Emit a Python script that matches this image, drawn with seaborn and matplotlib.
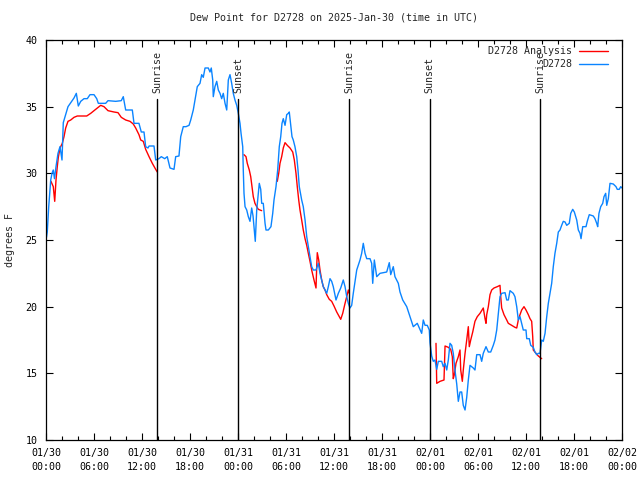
import numpy as np
import pandas as pd
import matplotlib
matplotlib.use("Agg")
import matplotlib.pyplot as plt
import matplotlib.dates as mdates
import seaborn as sns

# hours after 2025-01-30 00:00 UTC, dew point in degrees F
obs_hours = [0.06, 0.16, 0.34, 0.59, 0.75, 0.91, 1.06, 1.25, 1.5, 1.75, 2.0, 2.16, 2.5, 2.75,
             3.09, 3.5, 3.79, 4.04, 4.34, 4.75, 5.16, 5.5, 6.0, 6.34, 6.54, 7.46, 7.75, 8.71,
             9.41, 9.66, 9.96, 10.79, 11.0, 11.62, 11.91, 12.25, 12.46, 12.75, 12.88, 13.5,
             13.71, 14.12, 14.41, 14.84, 15.16, 15.5, 16.0, 16.21, 16.62, 16.84, 17.16, 17.5,
             17.88, 18.09, 18.41, 18.62, 18.91, 19.25, 19.46, 19.66, 19.88, 20.29, 20.5, 20.66,
             20.84, 20.91, 21.12, 21.34, 21.54, 21.75, 21.96, 22.16, 22.38, 22.59, 22.79, 23.0,
             23.21, 23.41, 23.62, 23.84, 24.04, 24.25, 24.38, 24.59, 24.66, 24.75, 24.88, 25.09,
             25.29, 25.5, 25.71, 25.88, 26.04, 26.16, 26.34, 26.54, 26.66, 26.84, 26.96, 27.16,
             27.38, 27.5, 27.79, 28.12, 28.34, 28.5, 28.75, 28.96, 29.16, 29.34, 29.5, 29.66,
             29.88, 30.09, 30.29, 30.41, 30.59, 30.75, 30.91, 31.12, 31.34, 31.5, 31.66, 31.96,
             32.16, 32.38, 32.59, 32.79, 33.0, 33.21, 33.41, 33.75, 34.04, 34.25, 34.46, 34.66,
             34.88, 35.09, 35.29, 35.5, 35.71, 35.91, 36.25, 36.54, 36.84, 37.16, 37.38, 37.59,
             37.79, 38.0, 38.21, 38.41, 38.84, 39.25, 39.46, 39.66, 39.88, 40.09, 40.5, 40.71,
             40.84, 41.04, 41.34, 41.75, 42.59, 42.91, 43.09, 43.41, 43.62, 44.04, 44.25, 44.59,
             45.09, 45.5, 45.91, 46.41, 46.66, 46.96, 47.16, 47.38, 47.66, 47.91, 48.0, 48.21,
             48.41, 48.62, 48.84, 49.04, 49.46, 49.66, 49.88, 50.09, 50.29, 50.5, 50.71, 50.91,
             51.12, 51.34, 51.54, 51.75, 51.96, 52.16, 52.38, 52.59, 52.79, 53.0, 53.41, 53.62,
             53.84, 54.25, 54.46, 54.66, 55.0, 55.29, 55.59, 55.91, 56.12, 56.34, 56.54, 56.75,
             56.96, 57.38, 57.59, 57.79, 58.0, 58.41, 58.62, 58.84, 59.04, 59.25, 59.46, 59.66,
             60.0, 60.09, 60.41, 60.59, 60.91, 61.12, 61.34, 61.54, 61.75, 61.96, 62.16, 62.38,
             62.59, 62.79, 63.0, 63.21, 63.41, 63.62, 63.84, 64.04, 64.25, 64.46, 64.66, 64.88,
             65.09, 65.41, 65.59, 65.84, 66.04, 66.34, 66.54, 66.75, 66.88, 67.09, 67.5, 67.66,
             67.91, 68.41, 68.62, 68.84, 68.96, 69.12, 69.34, 69.59, 69.75, 69.96, 70.09, 70.29,
             70.5, 70.91, 71.25, 71.41, 71.66, 71.84, 72.0]
obs_dewpt = [25.2, 25.6, 27.5, 29.5, 30.0, 30.25, 29.6, 30.5, 31.5, 32.0, 31.0, 33.8, 34.5, 35.0,
             35.3, 35.65, 36.0, 35.05, 35.4, 35.6, 35.6, 35.9, 35.9, 35.6, 35.25, 35.25, 35.45, 35.4,
             35.45, 35.75, 34.75, 34.75, 33.75, 33.75, 33.1, 33.1, 32.0, 31.9, 32.05, 32.05,
             31.0, 31.1, 31.25, 31.1, 31.25, 30.4, 30.3, 31.25, 31.3, 32.75, 33.5, 33.5,
             33.6, 34.0, 34.75, 35.5, 36.5, 36.75, 37.4, 37.2, 37.9, 37.9, 37.6, 37.9,
             37.0, 35.75, 36.5, 36.9, 36.25, 36.0, 35.6, 36.0, 35.25, 34.75, 37.0, 37.4,
             36.75, 36.0, 35.5, 35.1, 34.5, 33.75, 33.0, 32.0, 30.25, 28.5, 27.5, 27.25,
             26.75, 26.4, 27.4, 26.8, 25.75, 24.9, 27.25, 28.5, 29.25, 28.8, 27.75, 27.75,
             26.25, 25.75, 25.75, 26.0, 27.0, 28.0, 29.0, 30.25, 32.0, 32.75, 33.75, 34.1,
             33.6, 34.4, 34.5, 34.6, 33.6, 32.75, 32.5, 32.0, 31.25, 30.25, 29.0, 28.0,
             27.5, 26.5, 25.25, 24.5, 23.75, 23.0, 22.75, 22.75, 23.25, 22.5, 22.0, 21.5,
             21.25, 21.0, 21.5, 22.1, 21.9, 21.5, 20.5, 21.0, 21.4, 22.0, 21.5, 20.75,
             20.25, 19.9, 20.1, 21.0, 22.75, 23.5, 24.0, 24.75, 24.0, 23.6, 23.6, 23.25,
             21.75, 23.5, 22.25, 22.5, 22.6, 23.3, 22.4, 23.0, 22.25, 21.75, 21.1, 20.5,
             20.0, 19.25, 18.5, 18.75, 18.4, 18.0, 19.0, 18.6, 18.6, 18.25, 17.3, 16.3,
             15.9, 16.0, 15.3, 15.9, 15.9, 15.5, 15.75, 15.25, 16.0, 17.25, 17.1, 16.5,
             15.25, 14.2, 12.9, 13.6, 13.6, 12.6, 12.25, 13.2, 14.5, 15.6, 15.4, 15.25,
             16.4, 16.4, 15.9, 16.5, 17.0, 16.6, 16.6, 17.1, 17.5, 18.25, 19.5, 20.75,
             21.0, 21.05, 20.5, 20.5, 21.2, 21.0, 20.75, 20.0, 19.0, 19.25, 18.75, 18.25,
             18.25, 17.6, 17.6, 17.1, 16.95, 16.6, 16.4, 16.5, 16.5, 17.5, 17.4, 18.0,
             19.25, 20.25, 21.0, 21.75, 23.0, 24.0, 24.75, 25.6, 25.75, 26.1, 26.4, 26.35,
             26.1, 26.25, 27.0, 27.3, 27.1, 26.5, 25.75, 25.5, 25.1, 26.0, 26.0, 26.4,
             26.9, 26.8, 26.6, 26.25, 26.0, 27.0, 27.5, 27.75, 28.25, 28.5, 27.6, 28.1,
             29.25, 29.2, 29.0, 28.8, 28.8, 29.0, 28.9]

# analysis series, NaN marks a gap
ana_hours = [0.62, 0.91, 1.09, 1.25, 1.41, 1.54, 1.75, 2.04, 2.25, 2.46, 2.75, 3.09, 3.5, 3.91,
             5.09, 5.59, 6.21, 6.84, 7.25, 7.75, 8.5, 9.0, 9.41, 9.96, 10.5, 10.91, 11.21,
             11.62, 11.84, 12.16, 12.46, 12.88, 13.29, 13.71, 13.91, np.nan,
             24.75, 25.0, 25.16, 25.41, 25.59, 25.75, 25.91, 26.12, 26.34, 26.54, 26.96, np.nan,
             28.91, 29.09, 29.25, 29.46, 29.66, 29.88, 30.16, 30.5, 30.84, 31.04, 31.25, 31.41,
             31.59, 31.75, 31.96, 32.16, 32.38, 32.59, 32.79, 33.0, 33.21, 33.5, 33.75, 33.84,
             33.91, 34.09, 34.25, 34.46, 34.66, 34.88, 35.09, 35.41, 35.71, 36.0, 36.34, 36.66,
             36.84, 37.09, 37.38, 37.59, 37.79, 37.91, np.nan,
             48.75, 48.84, 49.25, 49.75, 49.88, 50.29, 50.59, 50.79, 50.91, 51.04, 51.25, 51.54,
             51.75, 51.84, 52.04, 52.16, 52.38, 52.59, 52.79, 52.91, 53.09, 53.34, 53.62, 53.91,
             54.25, 54.66, 54.88, 55.0, 55.09, 55.29, 55.5, 55.71, 56.0, 56.41, 56.75, 56.84,
             56.96, 57.25, 57.59, 57.79, 58.21, 58.62, 58.84, 59.04, 59.25, 59.46, 59.75, 60.0,
             60.29, 60.5, 60.71, 60.84, 60.91, 61.25, 61.54, 61.96]
ana_dewpt = [29.4, 29.0, 27.9, 29.5, 30.5, 31.2, 31.9, 32.25, 32.75, 33.4, 33.9, 34.0, 34.2, 34.3,
             34.3, 34.5, 34.8, 35.1, 35.0, 34.7, 34.6, 34.55, 34.2, 34.0, 33.9, 33.7, 33.4,
             32.9, 32.5, 32.4, 31.8, 31.25, 30.75, 30.3, 30.1, np.nan,
             31.4, 31.25, 30.75, 30.25, 29.75, 29.0, 28.25, 27.75, 27.5, 27.3, 27.2, np.nan,
             29.4, 30.0, 30.75, 31.25, 31.9, 32.3, 32.1, 31.9, 31.6, 31.0, 30.0, 29.0,
             28.0, 27.25, 26.5, 25.75, 25.1, 24.6, 24.0, 23.4, 22.75, 22.0, 21.4, 23.0,
             24.05, 23.5, 22.75, 22.0, 21.5, 21.25, 20.9, 20.55, 20.4, 20.05, 19.6, 19.25,
             19.05, 19.5, 20.25, 20.75, 21.25, 21.0, np.nan,
             17.25, 14.25, 14.4, 14.5, 17.05, 16.95, 16.8, 16.25, 14.6, 14.9, 15.75, 16.25,
             16.75, 15.25, 14.4, 15.25, 16.5, 17.5, 18.5, 17.0, 17.5, 18.1, 18.9, 19.25,
             19.5, 19.9, 19.1, 18.75, 19.4, 20.0, 20.9, 21.25, 21.4, 21.5, 21.6, 20.75,
             19.9, 19.4, 19.0, 18.75, 18.6, 18.45, 18.4, 19.0, 19.4, 19.75, 20.0, 19.75,
             19.4, 19.1, 18.9, 17.75, 16.75, 16.5, 16.3, 16.1]

sun_hours = [13.9, 24.0, 37.9, 47.95, 61.8]
sun_labels = ["Sunrise", "Sunset", "Sunrise", "Sunset", "Sunrise"]

start = pd.Timestamp("2025-01-30 00:00")
obs = pd.DataFrame({"time": start + pd.to_timedelta(obs_hours, unit="h"), "dewpt": obs_dewpt})
ana = pd.DataFrame({"hours": ana_hours, "dewpt": ana_dewpt})
ana["seg"] = ana["hours"].isna().cumsum()
ana = ana.dropna()
ana["time"] = start + pd.to_timedelta(ana["hours"], unit="h")

sns.set_style("ticks", {"xtick.direction": "in", "ytick.direction": "in"})
plt.rcParams["font.family"] = ["DejaVu Sans Mono"]
plt.rcParams["font.size"] = 7.2

fig = plt.figure(figsize=(6.4, 4.8), dpi=100)
ax = fig.add_axes([46 / 640, 40 / 480, 576 / 640, 400 / 480])

for i, (seg, d) in enumerate(ana.groupby("seg")):
    sns.lineplot(data=d, x="time", y="dewpt", ax=ax, color="#ff0000", lw=1.0,
                 label="D2728 Analysis" if i == 0 else None, legend=False)
sns.lineplot(data=obs, x="time", y="dewpt", ax=ax, color="#0a84ff", lw=1.0,
             label="D2728", legend=False)

for h, lab in zip(sun_hours, sun_labels):
    t = start + pd.Timedelta(hours=h)
    ax.plot([t, t], [10, 35.6], color="black", lw=1.0, zorder=5)
    ax.text(t, 36.0, lab, rotation=90, ha="center", va="bottom", fontsize=7.2)

ax.set_xlim(start, start + pd.Timedelta(hours=72))
ax.set_ylim(10, 40)
ax.set_yticks(range(10, 41, 5))
ax.xaxis.set_major_locator(mdates.HourLocator(byhour=[0, 6, 12, 18]))
ax.xaxis.set_minor_locator(mdates.HourLocator(interval=2))
ax.xaxis.set_major_formatter(mdates.DateFormatter("%m/%d\n%H:%M"))
ax.tick_params(axis="both", which="both", direction="in", top=True, right=True,
               colors="black", width=0.8)
ax.tick_params(axis="both", which="major", length=5, pad=6)
ax.tick_params(axis="x", which="minor", length=3)
for lbl in ax.get_xticklabels():
    lbl.set_linespacing(1.45)
for s in ax.spines.values():
    s.set_color("black")
    s.set_linewidth(0.9)

ax.set_xlabel("")
ax.set_ylabel("degrees F")
ax.yaxis.set_label_coords(-31 / 576, 0.5)
ax.set_title("Dew Point for D2728 on 2025-Jan-30 (time in UTC)", pad=14, fontsize=7.2)

ax.legend(loc="upper right", bbox_to_anchor=(1 - 6 / 576, 1 + 2 / 400), frameon=False,
          markerfirst=False, handlelength=2.9, handletextpad=0.7, labelspacing=0.3,
          borderaxespad=0.3, borderpad=0.5)

fig.savefig("out.png", dpi=100)
